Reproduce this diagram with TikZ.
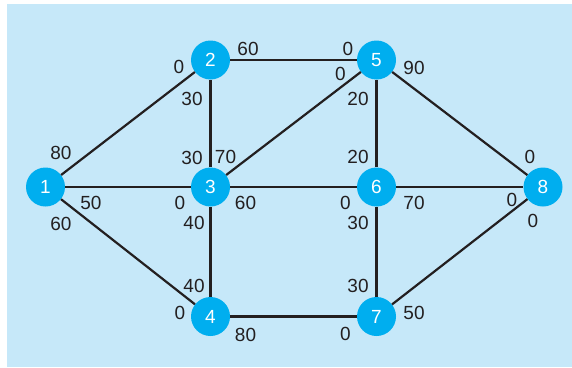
\documentclass[tikz,border=0pt]{standalone}
\usepackage{fontspec}
\setmainfont{Liberation Sans}
\usetikzlibrary{positioning}

\definecolor{bgblue}{RGB}{198,232,249}
\definecolor{nodeblue}{RGB}{0,174,239}
\definecolor{edgegray}{RGB}{35,31,32}

\tikzset{
  vertex/.style={circle, fill=nodeblue, minimum size=39pt, inner sep=0pt,
    text=white, font=\fontsize{19}{19}\selectfont},
  flow/.style={edgegray, line width=2.2pt},
  amount/.style={text=edgegray, inner sep=0pt, font=\fontsize{19}{19}\selectfont}
}

\begin{document}
\begin{tikzpicture}[x=1pt, y=-1pt]
            \useasboundingbox (0,0) rectangle (572,367);
            \fill[bgblue] (7,4) rectangle (572,367);

            % Cac dinh
            \node[vertex] (n1) at (45.5,187) {1};
            \node[vertex] (n2) at (210.5,60) {2};
            \node[vertex] (n3) at (210.5,187) {3};
            \node[vertex] (n4) at (210.5,316.5) {4};
            \node[vertex] (n5) at (376.5,60) {5};
            \node[vertex] (n6) at (376.5,187) {6};
            \node[vertex] (n7) at (376.5,316.5) {7};
            \node[vertex] (n8) at (543,187) {8};

            % Cac canh
            \draw[flow] (n1) -- (n2);
            \draw[flow] (n1) -- (n3);
            \draw[flow] (n1) -- (n4);
            \draw[flow] (n2) -- (n3);
            \draw[flow] (n2) -- (n5);
            \draw[flow] (n3) -- (n5);
            \draw[flow] (n3) -- (n6);
            \draw[flow] (n3) -- (n4);
            \draw[flow] (n4) -- (n7);
            \draw[flow] (n5) -- (n6);
            \draw[flow] (n5) -- (n8);
            \draw[flow] (n6) -- (n8);
            \draw[flow] (n6) -- (n7);
            \draw[flow] (n7) -- (n8);

            % Nhan canh
            \node[amount] (a12a) at (61,153) {80};
            \node[amount] (a12b) at (179,66.5) {0};
            \node[amount] (a13a) at (91,202.5) {50};
            \node[amount] (a13b) at (180,202.5) {0};
            \node[amount] (a14a) at (61,223.5) {60};
            \node[amount] (a14b) at (180,312.5) {0};
            \node[amount] (a23a) at (192,99) {30};
            \node[amount] (a23b) at (192,158) {30};
            \node[amount] (a25a) at (248,49) {60};
            \node[amount] (a25b) at (348,48.5) {0};
            \node[amount] (a35a) at (225.5,157) {70};
            \node[amount] (a35b) at (340.5,74) {0};
            \node[amount] (a36a) at (245.5,202.5) {60};
            \node[amount] (a36b) at (345.5,202.5) {0};
            \node[amount] (a34a) at (194,222.5) {40};
            \node[amount] (a34b) at (194,285.5) {40};
            \node[amount] (a47a) at (245.5,334.5) {80};
            \node[amount] (a47b) at (345.5,333.5) {0};
            \node[amount] (a56a) at (358,99) {20};
            \node[amount] (a56b) at (358,157) {20};
            \node[amount] (a58a) at (414,67.5) {90};
            \node[amount] (a58b) at (530,157) {0};
            \node[amount] (a68a) at (414,202.5) {70};
            \node[amount] (a68b) at (512,200) {0};
            \node[amount] (a67a) at (358,222.5) {30};
            \node[amount] (a67b) at (358,285.5) {30};
            \node[amount] (a78a) at (414,312.5) {50};
            \node[amount] (a78b) at (533,220.5) {0};
        \end{tikzpicture}
\end{document}
